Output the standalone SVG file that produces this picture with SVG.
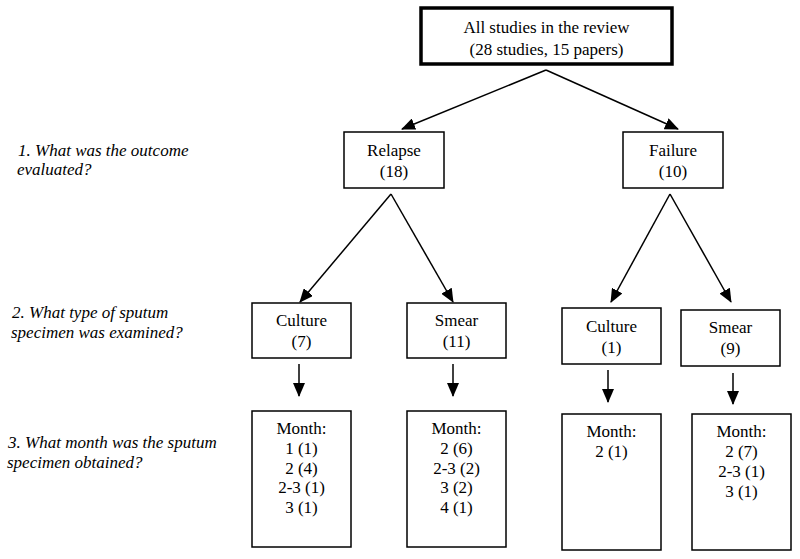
<svg xmlns="http://www.w3.org/2000/svg" width="800" height="559" viewBox="0 0 800 559" font-family="'Liberation Serif', 'DejaVu Serif', serif">
<style>
text{font-family:'Liberation Serif','DejaVu Serif',serif;font-size:17px;fill:#000}
.c{text-anchor:middle}
.q{font-style:italic}
.box{fill:#fff;stroke:#000;stroke-width:1.5}
.top{fill:#fff;stroke:#000;stroke-width:3.5}
.ln{stroke:#000;stroke-width:1.5;fill:none;marker-end:url(#ah)}
</style>
<defs>
<marker id="ah" markerUnits="userSpaceOnUse" markerWidth="14" markerHeight="12" refX="13" refY="6" orient="auto">
<path d="M0,0 L14,6 L0,12 z" fill="#000"/>
</marker>
</defs>
<rect width="800" height="559" fill="#fff"/>
<g id="questions">
<text class="q" x="18" y="156">1. What was the outcome</text>
<text class="q" x="17" y="175">evaluated?</text>
<text class="q" x="12" y="318">2. What type of sputum</text>
<text class="q" x="11" y="338">specimen was examined?</text>
<text class="q" x="8" y="448">3. What month was the sputum</text>
<text class="q" x="7" y="468">specimen obtained?</text>
</g>
<g id="connectors">
<line class="ln" x1="546" y1="70" x2="402" y2="129"/>
<line class="ln" x1="546" y1="70" x2="678" y2="129"/>
<line class="ln" x1="391" y1="194" x2="300" y2="302"/>
<line class="ln" x1="391" y1="194" x2="453" y2="302"/>
<line class="ln" x1="670" y1="194" x2="611" y2="302"/>
<line class="ln" x1="670" y1="194" x2="731" y2="302"/>
<line class="ln" x1="299" y1="364" x2="299" y2="396"/>
<line class="ln" x1="453" y1="364" x2="453" y2="396"/>
<line class="ln" x1="608" y1="370" x2="608" y2="402"/>
<line class="ln" x1="733" y1="373" x2="733" y2="404"/>
</g>
<g id="all">
<rect class="top" x="421" y="8" width="251" height="56"/>
<text class="c" x="546.5" y="33">All studies in the review</text>
<text class="c" x="546.5" y="55">(28 studies, 15 papers)</text>
</g>
<g id="relapse">
<rect class="box" x="344" y="132" width="100" height="56"/>
<text class="c" x="394" y="156">Relapse</text>
<text class="c" x="394" y="177">(18)</text>
</g>
<g id="failure">
<rect class="box" x="623" y="132" width="100" height="56"/>
<text class="c" x="673" y="156">Failure</text>
<text class="c" x="673" y="177">(10)</text>
</g>
<g id="relapse-culture">
<rect class="box" x="252" y="303" width="99" height="55"/>
<text class="c" x="301.5" y="326">Culture</text>
<text class="c" x="301.5" y="347">(7)</text>
</g>
<g id="relapse-smear">
<rect class="box" x="407" y="303" width="99" height="55"/>
<text class="c" x="456.5" y="326">Smear</text>
<text class="c" x="456.5" y="347">(11)</text>
</g>
<g id="failure-culture">
<rect class="box" x="562" y="308" width="99" height="56"/>
<text class="c" x="611.5" y="332">Culture</text>
<text class="c" x="611.5" y="353">(1)</text>
</g>
<g id="failure-smear">
<rect class="box" x="681" y="310" width="99" height="56"/>
<text class="c" x="730.5" y="333">Smear</text>
<text class="c" x="730.5" y="354">(9)</text>
</g>
<g id="relapse-culture-month">
<rect class="box" x="252" y="411" width="99" height="136"/>
<text class="c" x="301.5" y="434">Month:</text>
<text class="c" x="301.5" y="454">1 (1)</text>
<text class="c" x="301.5" y="474">2 (4)</text>
<text class="c" x="301.5" y="493">2-3 (1)</text>
<text class="c" x="301.5" y="513">3 (1)</text>
</g>
<g id="relapse-smear-month">
<rect class="box" x="407" y="411" width="99" height="136"/>
<text class="c" x="456.5" y="434">Month:</text>
<text class="c" x="456.5" y="454">2 (6)</text>
<text class="c" x="456.5" y="474">2-3 (2)</text>
<text class="c" x="456.5" y="493">3 (2)</text>
<text class="c" x="456.5" y="513">4 (1)</text>
</g>
<g id="failure-culture-month">
<rect class="box" x="562" y="414" width="99" height="136"/>
<text class="c" x="611.5" y="437">Month:</text>
<text class="c" x="611.5" y="457">2 (1)</text>
</g>
<g id="failure-smear-month">
<rect class="box" x="692" y="414" width="99" height="136"/>
<text class="c" x="741.5" y="437">Month:</text>
<text class="c" x="741.5" y="457">2 (7)</text>
<text class="c" x="741.5" y="477">2-3 (1)</text>
<text class="c" x="741.5" y="497">3 (1)</text>
</g>
</svg>
